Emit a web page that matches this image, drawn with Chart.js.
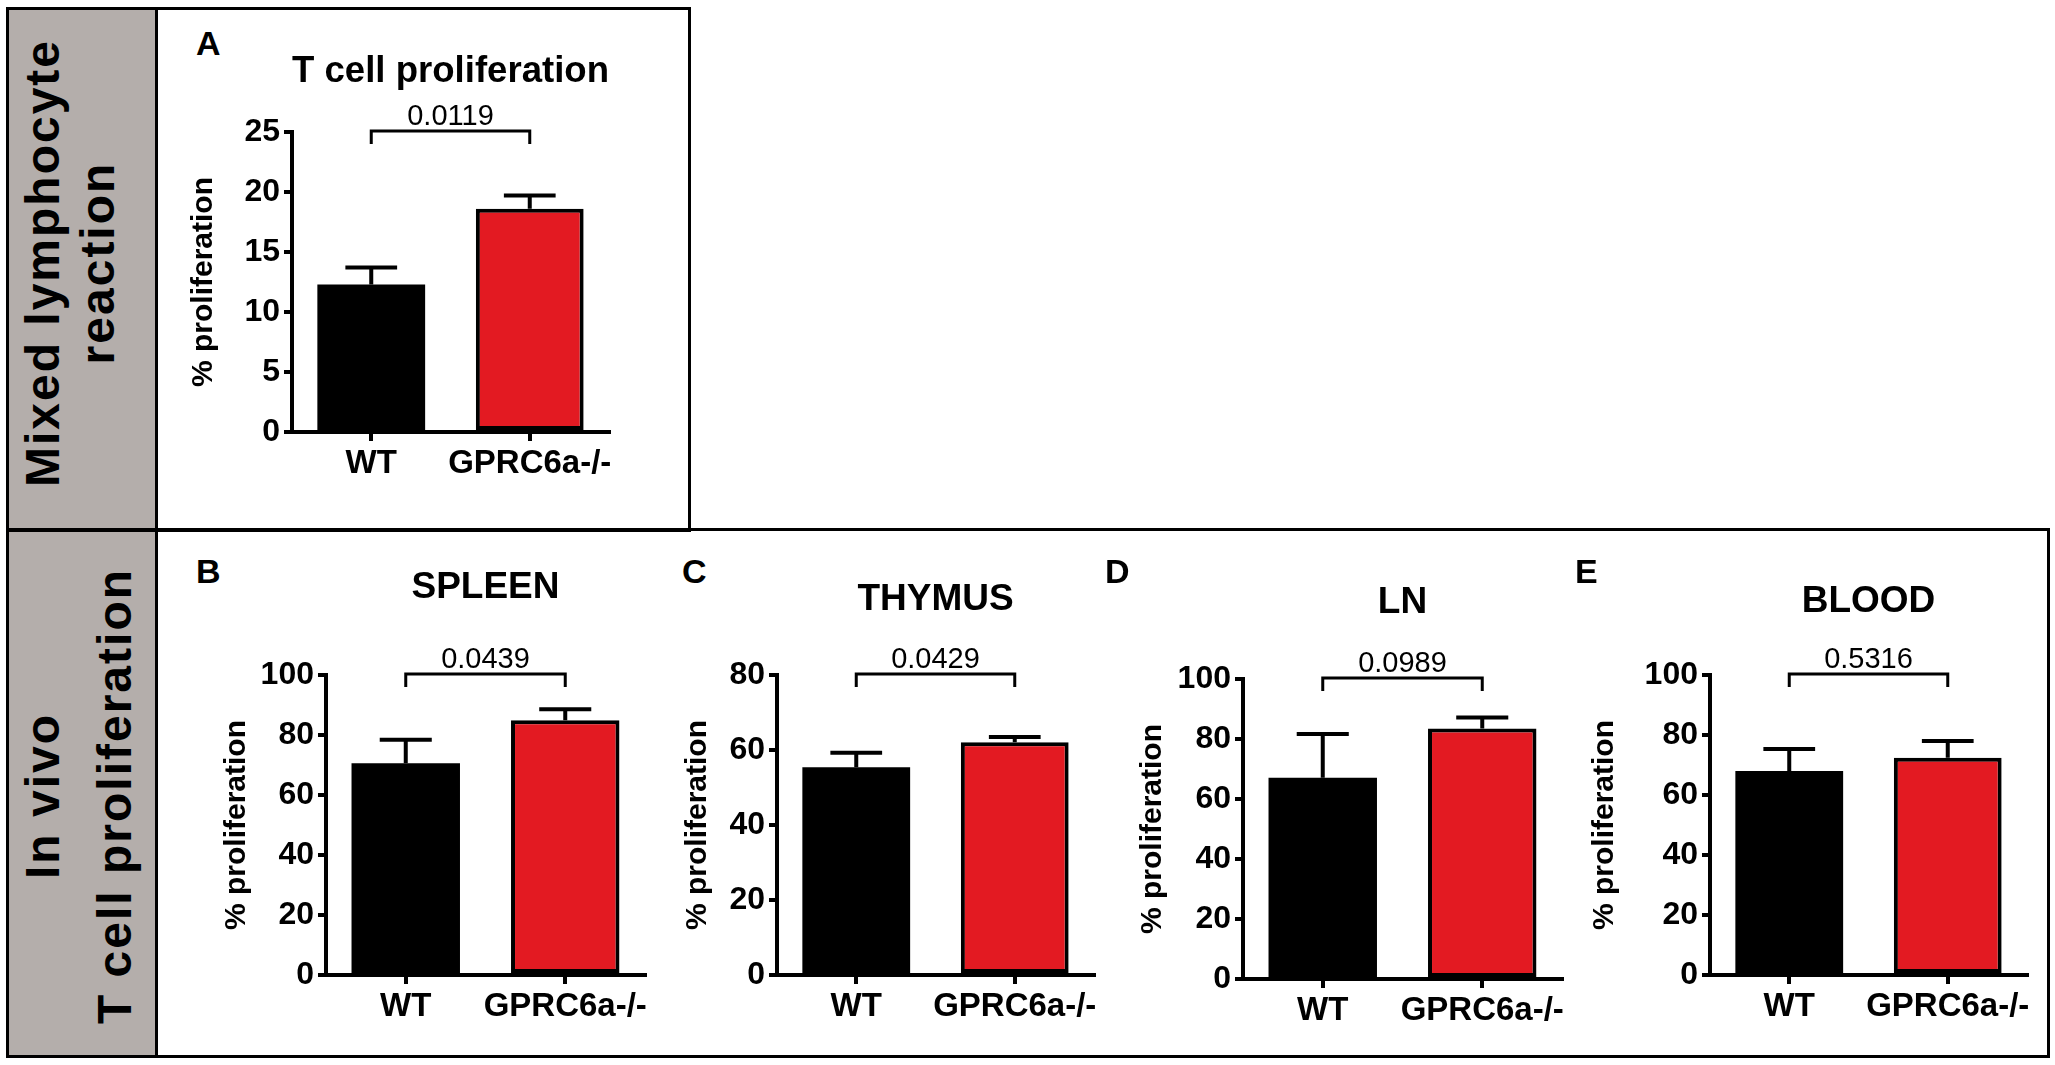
<!DOCTYPE html>
<html>
<head>
<meta charset="utf-8">
<script src="https://cdn.jsdelivr.net/npm/chart.js@4.4.1/dist/chart.umd.min.js"></script>
<style>
  body { margin: 0; background: #fff; width: 2055px; height: 1065px; position: relative; overflow: hidden;
         font-family: "Liberation Sans", Arial, sans-serif; }
  .side { position: absolute; background: #b4aeab; border-right: 3px solid #000; box-sizing: border-box; }
  .box { position: absolute; border: 3px solid #000; box-sizing: border-box; }
  .letter { position: absolute; font-weight: bold; font-size: 34px; line-height: 1; }
  .rot { position: absolute; width: 600px; height: 48px; font-weight: bold; font-size: 48px; line-height: 48px;
         white-space: nowrap; text-align: center; letter-spacing: 2px; transform: rotate(-90deg); }
  canvas { position: absolute; }
</style>
</head>
<body>
<div class="side" style="left:5.5px;top:6.5px;width:152px;height:1051px"></div>
<div class="box" style="left:5.5px;top:6.5px;width:685px;height:525px"></div>
<div class="box" style="left:5.5px;top:528px;width:2044px;height:529.5px"></div>

<div class="rot" style="left:-256.6px;top:239px">Mixed lymphocyte</div>
<div class="rot" style="left:-201.6px;top:239px">reaction</div>
<div class="rot" style="left:-256.6px;top:772px">In vivo</div>
<div class="rot" style="left:-184.6px;top:772px">T cell proliferation</div>

<script>
const panelLetters = ['A', 'B', 'C', 'D', 'E'];
const panelTitles = ['T cell proliferation', 'SPLEEN', 'THYMUS', 'LN', 'BLOOD'];
const groups = ['WT', 'GPRC6a-/-'];
const wtMean = [12.3, 70.6, 55.4, 67.1, 68.0];
const wtSem = [1.4, 7.8, 3.9, 14.6, 7.3];
const koMean = [18.6, 84.9, 62.1, 83.5, 72.4];
const koSem = [1.1, 3.7, 1.4, 3.7, 5.6];
const pValues = ['0.0119', '0.0439', '0.0429', '0.0989', '0.5316'];
const yMax = [25, 100, 80, 100, 100];
const yStep = [5, 20, 20, 20, 20];

// page placement of each panel: canvas box, y axis width, gap under title, letter spot
const frames = [
  { left: 186, top: 50, width: 443, height: 452, axisW: 106, gap: 37.6, lx: 196, ly: 25.5 },
  { left: 219, top: 566, width: 446, height: 479, axisW: 107, gap: 64.6, lx: 196, ly: 553.5 },
  { left: 680, top: 578, width: 434, height: 467, axisW: 97, gap: 52.6, lx: 682, ly: 553.5 },
  { left: 1135, top: 581, width: 447, height: 468, axisW: 108, gap: 53.6, lx: 1105, ly: 553.5 },
  { left: 1587, top: 580, width: 460, height: 465, axisW: 123, gap: 50.6, lx: 1575, ly: 553.5 }
];

Chart.defaults.font.family = '"Liberation Sans", Arial, sans-serif';
Chart.defaults.color = '#000';

// SEM whiskers (upward only) plus the p-value bracket
const errorAndBracket = {
  id: 'errorAndBracket',
  afterDatasetsDraw(chart, args, opts) {
    const { ctx } = chart;
    const x = chart.scales.x;
    const y = chart.scales.y;
    const ds = chart.data.datasets[0];
    const meta = chart.getDatasetMeta(0);
    ctx.save();
    ctx.strokeStyle = '#000';
    ctx.lineWidth = 4;
    meta.data.forEach((bar, i) => {
      const top = y.getPixelForValue(ds.data[i]);
      const end = y.getPixelForValue(ds.data[i] + ds.sem[i]);
      const half = bar.width * 0.24;
      ctx.beginPath();
      ctx.moveTo(bar.x, top);
      ctx.lineTo(bar.x, end);
      ctx.moveTo(bar.x - half, end);
      ctx.lineTo(bar.x + half, end);
      ctx.stroke();
    });

    const x0 = x.getPixelForValue(0);
    const x1 = x.getPixelForValue(1);
    const by = y.getPixelForValue(y.max) - 1;
    ctx.lineWidth = 3;
    ctx.lineJoin = 'miter';
    ctx.beginPath();
    ctx.moveTo(x0, by + 13);
    ctx.lineTo(x0, by);
    ctx.lineTo(x1, by);
    ctx.lineTo(x1, by + 13);
    ctx.stroke();

    ctx.fillStyle = '#000';
    ctx.font = '29px "Liberation Sans", Arial, sans-serif';
    ctx.textAlign = 'center';
    ctx.textBaseline = 'alphabetic';
    ctx.fillText(opts.p, (x0 + x1) / 2, by - 6);
    ctx.restore();
  }
};

panelTitles.forEach((title, i) => {
  const f = frames[i];

  const letter = document.createElement('div');
  letter.className = 'letter';
  letter.style.left = f.lx + 'px';
  letter.style.top = f.ly + 'px';
  letter.textContent = panelLetters[i];
  document.body.appendChild(letter);

  const canvas = document.createElement('canvas');
  canvas.width = f.width;
  canvas.height = f.height;
  canvas.style.left = f.left + 'px';
  canvas.style.top = f.top + 'px';
  canvas.style.width = f.width + 'px';
  canvas.style.height = f.height + 'px';
  document.body.appendChild(canvas);

  new Chart(canvas, {
    type: 'bar',
    data: {
      labels: groups,
      datasets: [{
        data: [wtMean[i], koMean[i]],
        sem: [wtSem[i], koSem[i]],
        backgroundColor: ['#000000', '#e31a22'],
        borderColor: '#000',
        borderWidth: [0, 4],
        borderSkipped: false,
        barPercentage: 0.68,
        categoryPercentage: 1
      }]
    },
    options: {
      responsive: false,
      animation: false,
      devicePixelRatio: 1,
      layout: { padding: { left: 0, right: 20, top: 0, bottom: 0 } },
      plugins: {
        legend: { display: false },
        tooltip: { enabled: false },
        title: {
          display: true,
          text: title,
          fullSize: false,
          color: '#000',
          font: { size: 37, weight: 'bold' },
          padding: { top: 0, bottom: f.gap }
        },
        errorAndBracket: { p: pValues[i] }
      },
      scales: {
        x: {
          grid: { offset: false, drawOnChartArea: false, color: '#000', lineWidth: 4, tickLength: 9 },
          border: { color: '#000', width: 4 },
          ticks: {
            color: '#000', padding: 3, autoSkip: false, maxRotation: 0, minRotation: 0,
            font: { size: 33, weight: 'bold' }
          },
          afterFit: s => { s.height = 70; }
        },
        y: {
          min: 0,
          max: yMax[i],
          ticks: { stepSize: yStep[i], color: '#000', padding: 4, font: { size: 32, weight: 'bold' } },
          grid: { drawOnChartArea: false, color: '#000', lineWidth: 4, tickLength: 8 },
          border: { color: '#000', width: 4 },
          title: {
            display: true,
            text: '% proliferation',
            color: '#000',
            font: { size: 30, weight: 'bold' },
            padding: { top: 0, bottom: 0 }
          },
          afterFit: s => { s.width = f.axisW; }
        }
      }
    },
    plugins: [errorAndBracket]
  });
});
</script>
</body>
</html>
